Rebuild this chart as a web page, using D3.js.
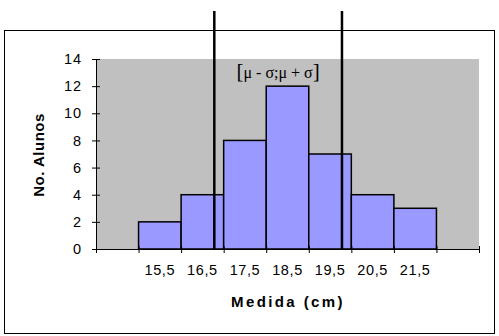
<!DOCTYPE html>
<html>
<head>
<meta charset="utf-8">
<script src="https://cdn.jsdelivr.net/npm/d3@7"></script>
<style>
body{margin:0;background:#fff}
svg{display:block;font-family:"Liberation Sans",Arial,sans-serif}
</style>
</head>
<body>
<svg></svg>
<script>
// medidas (classes) e frequencias
let categories=["","15,5","16,5","17,5","18,5","19,5","20,5","21,5",""]
let counts=[0,2,4,8,12,7,4,3,0]
let yTicks=[0,2,4,6,8,10,12,14]
let sigmaLimits=[16.78,19.78]   // mu - sigma ; mu + sigma
let classMids=[14.5,22.5]

let width=499
let height=336
let plotLeft=96, plotRight=479, plotTop=59, plotBottom=249

let svg=d3.select('svg').attr('width',width).attr('height',height)

// outer frame
svg.append('rect')
    .attr('x',4.5).attr('y',30.5)
    .attr('width',490).attr('height',303)
    .attr('fill','#fff').attr('stroke','#000').attr('stroke-width',1)

let xScale=d3.scaleBand()
    .domain(d3.range(categories.length))
    .range([plotLeft,plotRight])
    .padding(0)
let bw=xScale.bandwidth()

let xEdge=d3.scaleLinear()
    .domain([0,categories.length])
    .range([plotLeft,plotRight])

let xValue=d3.scaleLinear()
    .domain(classMids)
    .range([xScale(0)+bw/2,xScale(categories.length-1)+bw/2])

let yScale=d3.scaleLinear()
    .domain([0,14])
    .range([plotBottom,plotTop])

// plot area
svg.append('rect')
    .attr('x',plotLeft).attr('y',plotTop)
    .attr('width',plotRight-plotLeft).attr('height',plotBottom-plotTop)
    .attr('fill','#c0c0c0')

// bars
svg.selectAll('rect.bar')
    .data(counts.map((c,i)=>({c:c,i:i})).filter(d=>d.c>0))
    .enter()
    .append('rect')
    .attr('class','bar')
    .attr('x',d=>xScale(d.i))
    .attr('y',d=>yScale(d.c))
    .attr('width',bw)
    .attr('height',d=>plotBottom-yScale(d.c))
    .attr('fill','#9999ff')
    .attr('stroke','#000')
    .attr('stroke-width',1.5)

// y axis
let yAxis=d3.axisLeft(yScale).tickValues(yTicks).tickSizeInner(4).tickSizeOuter(0).tickPadding(10)
let gy=svg.append('g').attr('transform','translate('+plotLeft+',0)').call(yAxis)
gy.selectAll('.tick line').attr('x1',4)
gy.select('.domain').attr('stroke','#000')
gy.selectAll('text').style('font-size','14.5px').style('letter-spacing','0.9px').attr('fill','#000')

// x axis: ticks on class boundaries
let gxTicks=svg.append('g').attr('transform','translate(0,'+plotBottom+')')
    .call(d3.axisBottom(xEdge).tickValues(d3.range(categories.length+1)).tickFormat('').tickSizeInner(4).tickSizeOuter(0))
gxTicks.selectAll('.tick line').attr('y1',-3)

// x axis labels at class centres
let gx=svg.append('g').attr('transform','translate(0,'+plotBottom+')')
    .call(d3.axisBottom(xScale).tickFormat(i=>categories[i]).tickSize(0).tickPadding(16))
gx.select('.domain').remove()
gx.selectAll('text').style('font-size','14.5px').style('letter-spacing','0.6px').attr('fill','#000')

// sigma lines
svg.selectAll('line.sigma')
    .data(sigmaLimits)
    .enter()
    .append('line')
    .attr('class','sigma')
    .attr('x1',d=>xValue(d)).attr('x2',d=>xValue(d))
    .attr('y1',11).attr('y2',plotBottom)
    .attr('stroke','#000')
    .attr('stroke-width',2.5)

let muLabel=svg.append('text')
    .attr('x',xValue(d3.mean(sigmaLimits)))
    .attr('y',78)
    .attr('text-anchor','middle')
    .style('font-family','"Liberation Serif","Times New Roman",serif')
    .style('font-size','16px')
muLabel.append('tspan').style('font-size','21px').text('[')
muLabel.append('tspan').text('μ - σ;μ + σ')
muLabel.append('tspan').style('font-size','21px').text(']')

// axis titles
svg.append('text')
    .attr('x',288).attr('y',307)
    .attr('text-anchor','middle')
    .style('font-weight','bold').style('font-size','15px').style('letter-spacing','2.4px')
    .text('Medida (cm)')

svg.append('text')
    .attr('transform','translate(44,155) rotate(-90)')
    .attr('text-anchor','middle')
    .style('font-weight','bold').style('font-size','15px').style('letter-spacing','0.5px')
    .text('No. Alunos')
</script>
</body>
</html>
